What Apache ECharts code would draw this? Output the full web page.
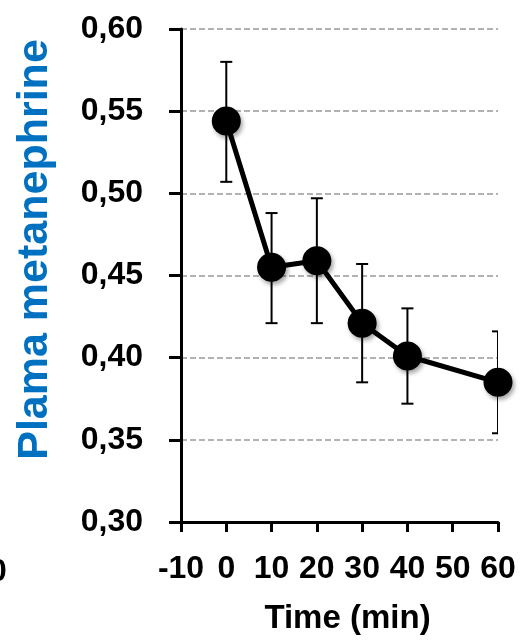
<!DOCTYPE html>
<html>
<head>
<meta charset="utf-8">
<script src="https://cdn.jsdelivr.net/npm/echarts@6/dist/echarts.min.js"></script>
<style>
  html, body { margin: 0; padding: 0; background: #fff; }
  #chart { width: 524px; height: 641px; }
</style>
</head>
<body>
<div id="chart"></div>
<script>
// values
const times = [0, 10, 20, 30, 40, 60];
const means = [0.544, 0.455, 0.459, 0.421, 0.401, 0.385];
const errUpper = [0.580, 0.488, 0.497, 0.457, 0.430, 0.416];
const errLower = [0.507, 0.421, 0.421, 0.385, 0.372, 0.354];

const FONT = '"Liberation Sans", Arial, sans-serif';

const chart = echarts.init(document.getElementById('chart'));

const lineData = times.map((t, i) => [t, means[i]]);
const errData = times.map((t, i) => [t, errLower[i], errUpper[i]]);

const option = {
  animation: false,
  grid: { left: 181, top: 29, right: 26, bottom: 119, containLabel: false, outerBoundsMode: 'none' },
  xAxis: {
    type: 'value',
    min: -10, max: 60, interval: 10,
    name: 'Time (min)',
    nameLocation: 'middle',
    nameGap: 80,
    nameTextStyle: { fontFamily: FONT, fontWeight: 'bold', fontSize: 33, color: '#000', padding: [0, 0, 0, 16] },
    axisLine: { onZero: false, lineStyle: { color: '#000', width: 3 } },
    axisTick: { inside: false, length: 10, lineStyle: { color: '#000', width: 3 } },
    axisLabel: { margin: 31, fontFamily: FONT, fontWeight: 'bold', fontSize: 32, color: '#000' },
    splitLine: { show: false }
  },
  yAxis: {
    type: 'value',
    min: 0.30, max: 0.60, interval: 0.05,
    name: 'Plama metanephrine',
    nameLocation: 'middle',
    nameGap: 124,
    nameTextStyle: { fontFamily: FONT, fontWeight: 'bold', fontSize: 43, color: '#0070C0', padding: [0, 0, 0, 52] },
    axisLine: { show: true, onZero: false, lineStyle: { color: '#000', width: 3 } },
    axisTick: { show: true, inside: false, length: 12, lineStyle: { color: '#000', width: 3 } },
    axisLabel: {
      margin: 38, fontFamily: FONT, fontWeight: 'bold', fontSize: 32, color: '#000',
      formatter: v => v.toFixed(2).replace('.', ',')
    },
    splitLine: { show: true, lineStyle: { color: '#999', width: 1.5, type: [6, 3] } }
  },
  graphic: [
    {
      type: 'text', left: -11, top: 556,
      style: { text: '0', font: 'bold 32px ' + FONT, fill: '#000' }
    }
  ],
  series: [
    {
      type: 'custom',
      clip: true,
      z: 1,
      data: errData,
      renderItem: (params, api) => {
        const x = api.value(0);
        const lo = api.coord([x, api.value(1)]);
        const hi = api.coord([x, api.value(2)]);
        const w = 6;
        const style = { stroke: '#000', lineWidth: 2 };
        return {
          type: 'group',
          children: [
            { type: 'line', shape: { x1: lo[0], y1: lo[1], x2: hi[0], y2: hi[1] }, style },
            { type: 'line', shape: { x1: hi[0] - w, y1: hi[1], x2: hi[0] + w, y2: hi[1] }, style },
            { type: 'line', shape: { x1: lo[0] - w, y1: lo[1], x2: lo[0] + w, y2: lo[1] }, style }
          ]
        };
      }
    },
    {
      type: 'line',
      z: 3,
      data: lineData,
      symbol: 'circle',
      symbolSize: 29,
      lineStyle: { color: '#000', width: 5 },
      itemStyle: {
        color: '#000',
        shadowBlur: 4, shadowColor: 'rgba(0,0,0,0.35)', shadowOffsetX: 2, shadowOffsetY: 3
      }
    }
  ]
};

chart.setOption(option);
</script>
</body>
</html>
